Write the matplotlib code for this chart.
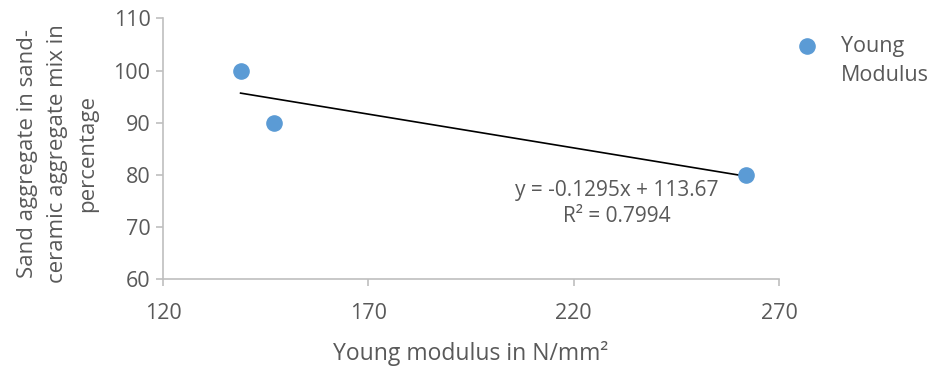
import matplotlib.pyplot as plt
import numpy as np

plt.rcParams['font.family'] = ['Open Sans', 'DejaVu Sans']

# data
young = [138.9, 147.0, 262.0]
sand_pct = [100, 90, 80]
slope = -0.1295
intercept = 113.67
r2 = 0.7994

xticks = [120, 170, 220, 270]
yticks = [60, 70, 80, 90, 100, 110]

grey = '#595959'
axis_grey = '#BFBFBF'
blue = '#5B9BD5'

W, H = 931, 368
fig = plt.figure(figsize=(W / 100, H / 100), dpi=100)
ax = fig.add_axes([0.175, 0.241, 0.662, 0.709])

ax.scatter(young, sand_pct, s=120, color=blue, zorder=3, label='Young')

# linear trendline over the data range
xt = np.array([min(young), max(young)])
ax.plot(xt, slope * xt + intercept, color='black', lw=1.2, zorder=2)

ax.text(230.5, 74.5, 'y = -0.1295x + 113.67\nR² = 0.7994', ha='center', va='center',
        fontsize=15, color=grey, linespacing=1.35)

ax.set_xlim(120, 270)
ax.set_ylim(60, 110)
ax.set_xticks(xticks)
ax.set_yticks(yticks)

for s in ['top', 'right']:
    ax.spines[s].set_visible(False)
for s in ['left', 'bottom']:
    ax.spines[s].set_color(axis_grey)
    ax.spines[s].set_linewidth(1.2)
ax.tick_params(colors=axis_grey, labelcolor=grey, labelsize=15.5, length=5, width=1.2)
ax.tick_params(axis='x', pad=12)
ax.tick_params(axis='y', pad=4)

ax.set_xlabel('Young modulus in N/mm²', fontsize=16.5, color=grey, labelpad=12)
fig.text(0.062, 0.584, 'Sand aggregate in sand-\nceramic aggregate mix in\npercentage',
         rotation=90, ha='center', va='center', fontsize=16, color=grey,
         linespacing=1.55, multialignment='center')

leg = fig.legend(loc='upper left', bbox_to_anchor=(0.844, 0.903), frameon=False,
                 fontsize=15.5, labelcolor=grey, handletextpad=0.58, borderaxespad=0,
                 borderpad=0)
fig.canvas.draw()
bb = leg.get_texts()[0].get_window_extent()
fig.text(bb.x0 / W, (bb.y0 - 29) / H, 'Modulus', fontsize=15.5, color=grey,
         ha='left', va='bottom')

fig.savefig('out.png', dpi=100)
